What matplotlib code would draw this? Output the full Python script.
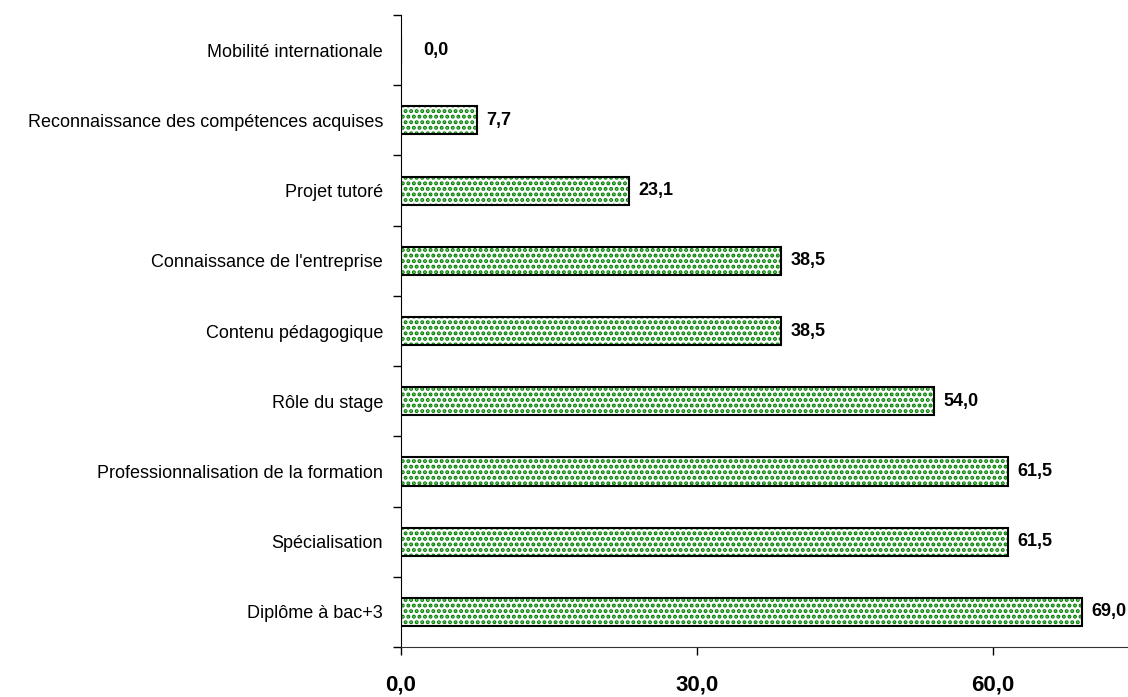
import matplotlib.pyplot as plt
from matplotlib.ticker import FixedLocator

plt.rcParams["font.family"] = ["Liberation Sans", "DejaVu Sans"]

# Data (bottom to top, as drawn)
categories = [
    "Diplôme à bac+3",
    "Spécialisation",
    "Professionnalisation de la formation",
    "Rôle du stage",
    "Contenu pédagogique",
    "Connaissance de l'entreprise",
    "Projet tutoré",
    "Reconnaissance des compétences acquises",
    "Mobilité internationale",
]
values = [69.0, 61.5, 61.5, 54.0, 38.5, 38.5, 23.1, 7.7, 0.0]
x_ticks = [0, 30, 60]


def fr(v):
    return f"{v:.1f}".replace(".", ",")


fig = plt.figure(figsize=(11.28, 6.97), dpi=100)
ax = fig.add_axes([0.3555, 0.0717, 0.6445, 0.9068])

pos = list(range(len(categories)))
plt.rcParams["hatch.linewidth"] = 2.0
# dotted green fill
ax.barh(pos, values, height=0.4, color="white", edgecolor="#008000",
        hatch="...", linewidth=0)
# black outline on top
ax.barh(pos, values, height=0.4, fill=False, edgecolor="black", linewidth=1.5)

for p, v in zip(pos, values):
    off = 7 if v > 0 else 16
    ax.annotate(fr(v), (v, p), xytext=(off, 0), textcoords="offset points",
                ha="left", va="center", fontsize=13, fontweight="bold")

ax.set_xlim(0, 73.7)
ax.set_ylim(-0.5, len(categories) - 0.5)

ax.set_xticks(x_ticks)
ax.set_xticklabels([fr(t) for t in x_ticks], fontsize=16, fontweight="bold")
ax.tick_params(axis="x", direction="out", length=5.5, width=1, pad=14)

ax.set_yticks(pos)
ax.set_yticklabels(categories, fontsize=13)
ax.tick_params(axis="y", length=0, pad=13)
ax.yaxis.set_minor_locator(FixedLocator([i - 0.5 for i in range(len(categories) + 1)]))
ax.tick_params(axis="y", which="minor", direction="out", length=5.5, width=1)

for s in ["top", "right"]:
    ax.spines[s].set_visible(False)
ax.spines["left"].set_color("black")
ax.spines["bottom"].set_color("#333333")

fig.savefig("out.png", dpi=100)
